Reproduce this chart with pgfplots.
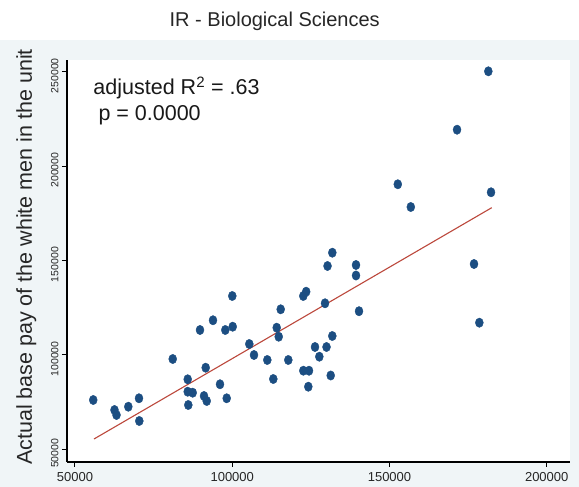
\documentclass[border=0pt]{standalone}
\usepackage{pgfplots}
\pgfplotsset{compat=1.18}
\usepackage{fontspec}
\setmainfont{Liberation Sans}
\definecolor{bgblue}{RGB}{240,245,247}
\definecolor{dotblue}{RGB}{28,78,130}
\definecolor{fitred}{RGB}{188,72,60}
\begin{document}
\begin{tikzpicture}
\useasboundingbox (-67pt,-25pt) rectangle (512pt,462pt);
\fill[white] (-67pt,-25pt) rectangle (512pt,462pt);
\fill[bgblue] (-67pt,-25pt) rectangle (512pt,422pt);
\begin{axis}[
  at={(0pt,0pt)}, anchor=south west,
  scale only axis, width=503pt, height=402pt,
  xmin=47456, xmax=207400, ymin=43260, ymax=256200,
  axis x line*=bottom, axis y line*=left,
  axis line style={black, line width=1.1pt},
  axis background/.style={fill=white},
  tick align=outside, major tick length=5pt,
  tick style={black, line width=1pt},
  scaled x ticks=false, scaled y ticks=false,
  xtick={50000,100000,150000,200000},
  xticklabels={50000,100000,150000,200000},
  ytick={50000,100000,150000,200000,250000},
  yticklabels={50000,100000,150000,200000,250000},
  xticklabel style={font=\fontsize{13}{13}\selectfont, text=black!85, yshift=-1.5pt},
  yticklabel style={rotate=90, anchor=south, font=\fontsize{10.5}{10.5}\selectfont, text=black!85, xshift=-4pt},
  clip=false,
]
\addplot[only marks, mark=*, mark size=4.7pt, mark options={xscale=0.85, fill=dotblue, draw=dotblue}] coordinates {
(55800,76100) (62560,70800) (63200,68150) (66950,72550) (70350,77000) (70450,64980)
(81070,97820) (91560,93210) (85840,87060) (85840,80500) (87430,79970) (86030,73450)
(91020,78220) (91880,75570) (96110,84420) (98240,77000) (89750,113180) (93880,118320)
(97800,113180) (100150,114930) (100020,131190) (105430,105760) (106920,99940) (111150,97290)
(117830,97290) (113060,87220) (115410,124140) (114140,114400) (114780,109630) (123510,133470)
(122600,131190) (122600,91620) (124410,91620) (124190,83140) (126320,104170) (127690,99040)
(129500,127320) (129980,104170) (131820,110000) (131310,89080) (131820,154120) (130300,147080)
(139360,147610) (139360,142050) (140310,123140) (152640,190360) (156780,178330) (171480,219280)
(181430,250210) (176880,148140) (178570,117050) (182290,186120)
};
\addplot[color=fitred, line width=1.1pt] coordinates {(56042,55440) (182510,177960)};
\end{axis}
\node[anchor=base, font=\fontsize{20}{20}\selectfont, text=black!85] at (207.7pt,435.3pt) {IR - Biological Sciences};
\node[anchor=base, rotate=90, font=\fontsize{21.5}{21.5}\selectfont, text=black!85] at (-35pt,205pt) {Actual base pay of the white men in the unit};
\node[anchor=base west, inner sep=0pt, font=\fontsize{21.5}{21.5}\selectfont, text=black!90] at (26.3pt,367pt) {adjusted R\textsuperscript{2} = .63};
\node[anchor=base west, inner sep=0pt, font=\fontsize{21.5}{21.5}\selectfont, text=black!90] at (31.3pt,341pt) {p = 0.0000};
\end{tikzpicture}
\end{document}
